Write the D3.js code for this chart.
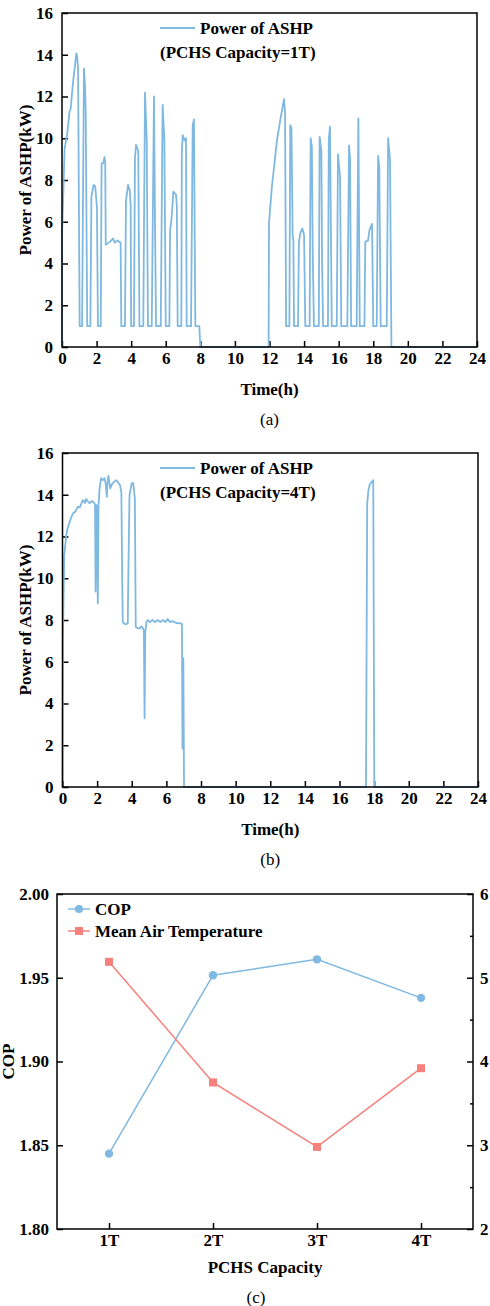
<!DOCTYPE html>
<html>
<head>
<meta charset="utf-8">
<script src="https://cdn.jsdelivr.net/npm/d3@7"></script>
<style>
  body { margin: 0; background: #fff; }
  svg { display: block; }
  text { font-family: "Liberation Serif", "Times New Roman", serif; }
</style>
</head>
<body>
<svg id="chart" width="490" height="1306"></svg>
<script>
// panel (a): PCHS capacity 1T
const timeA = [0, 0.0, 0.02, 0.15, 0.3, 0.44, 0.5, 0.64, 0.83, 0.88, 0.93, 1.02, 1.16, 1.27, 1.33, 1.37, 1.46,
  1.64, 1.7, 1.83, 1.92, 2.02, 2.08, 2.24, 2.29, 2.38, 2.46, 2.5, 2.53, 2.7, 2.85, 2.95, 3.05, 3.2, 3.39, 3.43,
  3.64, 3.7, 3.82, 3.92, 3.97, 4.0, 4.16, 4.22, 4.28, 4.41, 4.48, 4.7, 4.8, 4.9, 4.97, 5.19, 5.32, 5.38, 5.44,
  5.71, 5.82, 5.92, 6.0, 6.21, 6.25, 6.32, 6.44, 6.59, 6.64, 6.69, 6.9, 6.93, 6.98, 7.09, 7.17, 7.21, 7.46,
  7.56, 7.63, 7.71, 7.94, 8.0, 11.95, 11.97, 12.14, 12.26, 12.43, 12.63, 12.84, 12.9, 12.96, 13.15, 13.2,
  13.27, 13.34, 13.38, 13.42, 13.65, 13.7, 13.78, 13.9, 14.0, 14.07, 14.32, 14.38, 14.45, 14.5, 14.57, 14.85,
  14.9, 15.0, 15.04, 15.1, 15.38, 15.43, 15.5, 15.6, 15.89, 15.96, 16.08, 16.15, 16.5, 16.6, 16.66, 16.72,
  17.04, 17.14, 17.22, 17.49, 17.54, 17.7, 17.78, 17.93, 18.0, 18.2, 18.28, 18.35, 18.43, 18.78, 18.86,
  18.97, 19.05, 24]
const powerA = [0, 5.7, 5.8, 9.5, 10.2, 11.3, 11.4, 12.7, 14.07, 13.9, 13.3, 1, 1, 13.35, 12.5, 11.3, 1,
  1, 7.2, 7.76, 7.7, 6.7, 1, 1, 8.8, 8.8, 9.1, 8.8, 4.9, 5.0, 5.1, 5.2, 5.0, 5.1, 5.0, 1,
  1, 7.0, 7.76, 7.5, 6.8, 1, 1, 9.0, 9.68, 9.4, 1, 1, 12.18, 9.9, 1, 1, 12.0, 5.8, 1,
  1, 11.6, 9.9, 1, 1, 5.6, 6.0, 7.44, 7.3, 6.8, 1, 1, 9.3, 10.15, 9.9, 10.0, 1, 1,
  10.6, 10.9, 1, 1, 0, 0, 5.9, 7.7, 8.6, 9.9, 10.9, 11.87, 11.2, 1, 1, 10.63,
  10.5, 5.3, 5.1, 1, 1, 5.0, 5.45, 5.68, 5.35, 1, 1, 10.0, 9.6, 4.5, 1, 1,
  10.07, 9.4, 4.1, 1, 1, 10.0, 10.55, 1, 1, 9.23, 8.16, 1, 1, 9.66, 9.0, 1,
  1, 10.95, 1, 1, 5.05, 5.1, 5.6, 5.9, 1, 1, 9.15, 8.6, 1, 1, 10.0,
  8.96, 0, 0]

// panel (b): PCHS capacity 4T
const timeB = [0, 0.02, 0.1, 0.22, 0.3, 0.41, 0.5, 0.6, 0.75, 0.89, 1.0, 1.18, 1.3, 1.37, 1.45, 1.56, 1.7,
  1.85, 1.88, 1.91, 1.94, 1.97, 2.04, 2.08, 2.14, 2.23, 2.33, 2.43, 2.5, 2.56, 2.6, 2.65, 2.76, 2.85, 2.95,
  3.12, 3.2, 3.32, 3.4, 3.44, 3.45, 3.48, 3.6, 3.67, 3.77, 3.8, 3.87, 4.0, 4.09, 4.18, 4.23, 4.35, 4.46,
  4.55, 4.65, 4.7, 4.74, 4.78, 4.85, 4.93, 5.05, 5.2, 5.35, 5.5, 5.65, 5.8, 5.95, 6.08, 6.2, 6.35, 6.47,
  6.6, 6.76, 6.9, 6.93, 6.98, 7.02, 17.53, 17.6, 17.67, 17.75, 17.95, 18.01, 24]
const powerB = [0, 6.96, 11.1, 12.07, 12.4, 12.7, 12.9, 13.1, 13.2, 13.43, 13.4, 13.75, 13.6, 13.8, 13.7, 13.6, 13.7,
  13.6, 13.5, 9.36, 13.4, 13.5, 8.8, 13.5, 14.3, 14.79, 14.7, 14.79, 14.5, 13.9, 14.6, 14.9, 14.3, 14.5, 14.6,
  14.7, 14.6, 14.47, 14.1, 10.7, 9.83, 7.9, 7.8, 7.8, 7.85, 10, 13.99, 14.55, 14.55, 13.8, 7.68, 7.6, 7.6,
  7.7, 7.6, 7.5, 3.29, 7.4, 7.9, 8.0, 7.9, 8.0, 7.9, 8.0, 7.9, 8.0, 7.9, 8.05, 7.9, 7.95, 7.9,
  7.85, 7.85, 7.8, 1.85, 6.17, 0, 0, 13.6, 14.2, 14.5, 14.7, 0, 0]

const timeTicks = d3.range(0, 25, 2)
const powerTicks = d3.range(0, 17, 2)

// panel (c)
const capacities = ["1T", "2T", "3T", "4T"]
const copValues = [1.845, 1.9515, 1.961, 1.938]
const tempValues = [5.19, 3.75, 2.98, 3.92]
const copTicks = [1.80, 1.85, 1.90, 1.95, 2.00]
const tempTicks = [2, 3, 4, 5, 6]

const blue = "#7fb8e0"
const red = "#f5807c"
const svg = d3.select("#chart")

function styleAxis(g) {
  g.select(".domain").remove()
  g.selectAll(".tick line").attr("stroke", "#000").attr("stroke-width", 1.5)
  g.selectAll(".tick text").attr("fill", "#000")
    .style("font-size", "17px").style("font-weight", "bold")
    .style("font-family", '"Liberation Serif", "Times New Roman", serif')
}

function powerPanel(box, times, powers, capLabel, tag) {
  const x = d3.scaleLinear().domain([0, 24]).range([box.left, box.right])
  const y = d3.scaleLinear().domain([0, 16]).range([box.bottom, box.top])
  const pts = times.map((t, i) => [t, powers[i]])

  svg.append("g").attr("transform", `translate(0,${box.bottom})`)
    .call(d3.axisBottom(x).tickValues(timeTicks).tickSizeInner(-6).tickSizeOuter(0).tickPadding(5))
    .call(styleAxis)
  svg.append("g").attr("transform", `translate(${box.left},0)`)
    .call(d3.axisLeft(y).tickValues(powerTicks).tickSizeInner(-6).tickSizeOuter(0).tickPadding(9))
    .call(styleAxis)

  svg.append("path").datum(pts)
    .attr("fill", "none").attr("stroke", blue).attr("stroke-width", 1.8)
    .attr("stroke-linejoin", "round")
    .attr("d", d3.line().x(d => x(d[0])).y(d => y(d[1])))

  svg.append("rect")
    .attr("x", box.left).attr("y", box.top)
    .attr("width", box.right - box.left).attr("height", box.bottom - box.top)
    .attr("fill", "none").attr("stroke", "#000").attr("stroke-width", 1.5)

  // legend
  const ly = box.top + 15
  svg.append("line").attr("x1", 160).attr("x2", 195).attr("y1", ly).attr("y2", ly)
    .attr("stroke", blue).attr("stroke-width", 1.8)
  svg.append("text").attr("x", 200).attr("y", ly + 6)
    .style("font-size", "17px").style("font-weight", "bold").text("Power of ASHP")
  svg.append("text").attr("x", 160).attr("y", ly + 30)
    .style("font-size", "17px").style("font-weight", "bold").text(`(PCHS Capacity=${capLabel})`)

  const cx = (box.left + box.right) / 2
  svg.append("text").attr("x", cx).attr("y", box.bottom + 48).attr("text-anchor", "middle")
    .style("font-size", "17px").style("font-weight", "bold").text("Time(h)")
  svg.append("text").attr("x", cx).attr("y", box.bottom + 78).attr("text-anchor", "middle")
    .style("font-size", "17px").text(tag)
  svg.append("text")
    .attr("transform", `translate(31,${(box.top + box.bottom) / 2}) rotate(-90)`)
    .attr("text-anchor", "middle")
    .style("font-size", "17px").style("font-weight", "bold").text("Power of ASHP(kW)")
}

powerPanel({ left: 62, right: 477, top: 13, bottom: 347 }, timeA, powerA, "1T", "(a)")
powerPanel({ left: 62.5, right: 478, top: 453, bottom: 787 }, timeB, powerB, "4T", "(b)")

// panel (c)
const boxC = { left: 57, right: 473, top: 894, bottom: 1229 }
const xc = d3.scalePoint().domain(capacities).range([boxC.left, boxC.right]).padding(0.5)
const yCop = d3.scaleLinear().domain([1.8, 2.0]).range([boxC.bottom, boxC.top])
const yTemp = d3.scaleLinear().domain([2, 6]).range([boxC.bottom, boxC.top])

svg.append("g").attr("transform", `translate(0,${boxC.bottom})`)
  .call(d3.axisBottom(xc).tickSizeInner(-6).tickSizeOuter(0).tickPadding(5))
  .call(styleAxis)
svg.append("g").attr("transform", `translate(${boxC.left},0)`)
  .call(d3.axisLeft(yCop).tickValues(copTicks).tickFormat(d3.format(".2f")).tickSizeInner(-6).tickSizeOuter(0).tickPadding(8))
  .call(styleAxis)
svg.append("g").attr("transform", `translate(${boxC.right},0)`)
  .call(d3.axisRight(yTemp).tickValues(tempTicks).tickFormat(d3.format("d")).tickSizeInner(-6).tickSizeOuter(0).tickPadding(7))
  .call(styleAxis)
svg.append("g").attr("transform", `translate(${boxC.right},0)`)
  .call(d3.axisRight(yTemp).tickValues([2.5, 3.5, 4.5, 5.5]).tickFormat("").tickSizeInner(-3).tickSizeOuter(0))
  .call(styleAxis)

svg.append("path").datum(capacities)
  .attr("fill", "none").attr("stroke", blue).attr("stroke-width", 1.5)
  .attr("d", d3.line().x(d => xc(d)).y((d, i) => yCop(copValues[i])))
svg.selectAll(".copDot").data(capacities).join("circle")
  .attr("cx", d => xc(d)).attr("cy", (d, i) => yCop(copValues[i])).attr("r", 4.2).attr("fill", blue)

svg.append("path").datum(capacities)
  .attr("fill", "none").attr("stroke", red).attr("stroke-width", 1.5)
  .attr("d", d3.line().x(d => xc(d)).y((d, i) => yTemp(tempValues[i])))
svg.selectAll(".tempSq").data(capacities).join("rect")
  .attr("x", d => xc(d) - 4).attr("y", (d, i) => yTemp(tempValues[i]) - 4)
  .attr("width", 8).attr("height", 8).attr("fill", red)

svg.append("rect")
  .attr("x", boxC.left).attr("y", boxC.top)
  .attr("width", boxC.right - boxC.left).attr("height", boxC.bottom - boxC.top)
  .attr("fill", "none").attr("stroke", "#000").attr("stroke-width", 1.5)

// legend (c)
const legC = [{ name: "COP", color: blue, shape: "circle", y: 909 },
  { name: "Mean Air Temperature", color: red, shape: "square", y: 931 }]
legC.forEach(l => {
  svg.append("line").attr("x1", 68).attr("x2", 90).attr("y1", l.y).attr("y2", l.y)
    .attr("stroke", l.color).attr("stroke-width", 1.5)
  if (l.shape === "circle") {
    svg.append("circle").attr("cx", 79).attr("cy", l.y).attr("r", 4).attr("fill", l.color)
  } else {
    svg.append("rect").attr("x", 75).attr("y", l.y - 4).attr("width", 8).attr("height", 8).attr("fill", l.color)
  }
  svg.append("text").attr("x", 95).attr("y", l.y + 6)
    .style("font-size", "17px").style("font-weight", "bold").text(l.name)
})

svg.append("text").attr("x", (boxC.left + boxC.right) / 2).attr("y", 1273).attr("text-anchor", "middle")
  .style("font-size", "17px").style("font-weight", "bold").text("PCHS Capacity")
svg.append("text").attr("x", 256).attr("y", 1303).attr("text-anchor", "middle")
  .style("font-size", "17px").text("(c)")
svg.append("text")
  .attr("transform", `translate(14,${(boxC.top + boxC.bottom) / 2}) rotate(-90)`)
  .attr("text-anchor", "middle")
  .style("font-size", "17px").style("font-weight", "bold").text("COP")
</script>
</body>
</html>
